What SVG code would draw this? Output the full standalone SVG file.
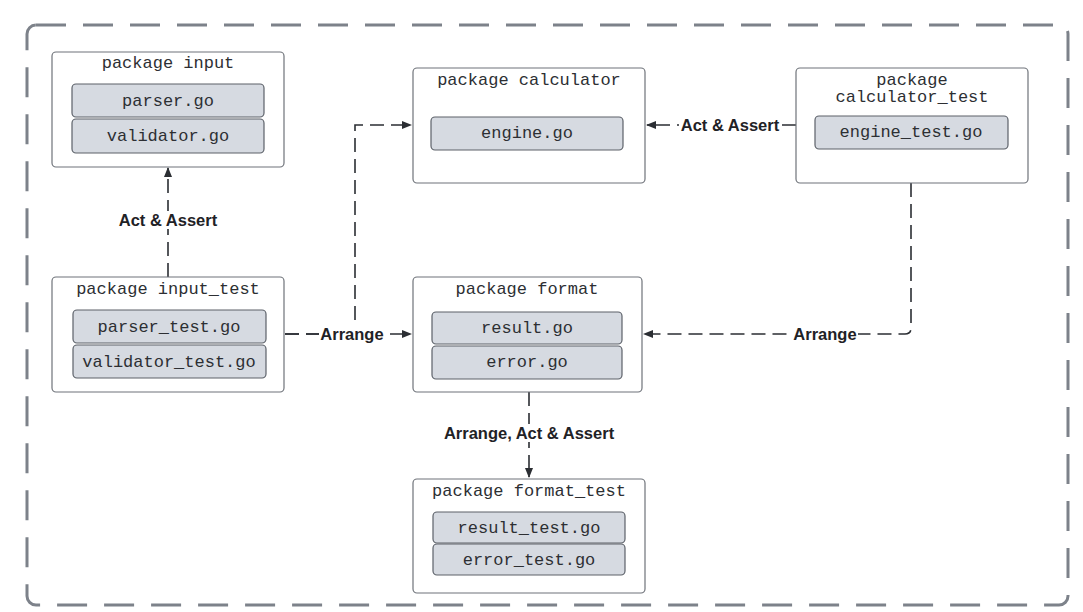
<svg xmlns="http://www.w3.org/2000/svg" width="1083" height="612" viewBox="0 0 1083 612">
<style>
.outer{fill:none;stroke:#7d828a;stroke-width:3;stroke-dasharray:30 17}
.pkg{fill:#ffffff;stroke:#6f737a;stroke-width:1.2}
.file{fill:#d6dae1;stroke:#5c6169;stroke-width:1.2}
.mono{font-family:"Liberation Mono","DejaVu Sans Mono",monospace;font-size:17px;fill:#2d2f33;text-anchor:middle;dominant-baseline:central}
.lbl{font-family:"Liberation Sans",Arial,sans-serif;font-weight:bold;font-size:16.5px;fill:#1f2226;text-anchor:middle;dominant-baseline:central}
.con{fill:none;stroke:#2b2e33;stroke-width:1.6;stroke-dasharray:14 7}
.lblbg{fill:#ffffff}
</style>
<defs>
<marker id="arr" viewBox="0 0 10 10" refX="9" refY="5" markerWidth="10" markerHeight="10" markerUnits="userSpaceOnUse" orient="auto">
<path d="M0,1 L10,5 L0,9 Z" fill="#2b2e33"/>
</marker>
</defs>
<rect class="outer" x="27" y="25" width="1041" height="580" rx="9"/>

<g id="connectors">
<path class="con" d="M168,277 V168" marker-end="url(#arr)"/>
<path class="con" d="M285,334 H411" marker-end="url(#arr)"/>
<path class="con" d="M285,334 H355 V125 H411" marker-end="url(#arr)"/>
<path class="con" d="M796,125 H647" marker-end="url(#arr)"/>
<path class="con" d="M911,183 V328 Q911,334 905,334 H644" marker-end="url(#arr)"/>
<path class="con" d="M529,392 V477" marker-end="url(#arr)"/>
<rect class="lblbg" x="116" y="211" width="104" height="18"/>
<text class="lbl" x="168" y="220">Act &amp; Assert</text>
<rect class="lblbg" x="319" y="325" width="66" height="18"/>
<text class="lbl" x="352" y="334">Arrange</text>
<rect class="lblbg" x="679" y="116" width="102" height="18"/>
<text class="lbl" x="730" y="125">Act &amp; Assert</text>
<rect class="lblbg" x="792" y="325" width="66" height="18"/>
<text class="lbl" x="825" y="334">Arrange</text>
<rect class="lblbg" x="440" y="424" width="178" height="18"/>
<text class="lbl" x="529" y="433">Arrange, Act &amp; Assert</text>
</g>

<g id="pkg-input">
<rect class="pkg" x="52" y="52" width="232" height="115" rx="4"/>
<text class="mono" x="168" y="63">package input</text>
<rect class="file" x="72" y="84" width="192" height="33" rx="4"/>
<text class="mono" x="168" y="101">parser.go</text>
<rect class="file" x="72" y="119" width="192" height="34" rx="4"/>
<text class="mono" x="168" y="136">validator.go</text>
</g>

<g id="pkg-calculator">
<rect class="pkg" x="413" y="68" width="232" height="115" rx="4"/>
<text class="mono" x="529" y="80">package calculator</text>
<rect class="file" x="431" y="117" width="192" height="33" rx="4"/>
<text class="mono" x="527" y="133">engine.go</text>
</g>

<g id="pkg-calculator-test">
<rect class="pkg" x="796" y="68" width="232" height="115" rx="4"/>
<text class="mono" x="912" y="80">package</text>
<text class="mono" x="912" y="97">calculator_test</text>
<rect class="file" x="815" y="116" width="193" height="33" rx="4"/>
<text class="mono" x="911" y="132">engine_test.go</text>
</g>

<g id="pkg-input-test">
<rect class="pkg" x="52" y="277" width="232" height="115" rx="4"/>
<text class="mono" x="168" y="289">package input_test</text>
<rect class="file" x="73" y="310" width="193" height="33" rx="4"/>
<text class="mono" x="169" y="327">parser_test.go</text>
<rect class="file" x="73" y="345" width="193" height="33" rx="4"/>
<text class="mono" x="169" y="362">validator_test.go</text>
</g>

<g id="pkg-format">
<rect class="pkg" x="413" y="277" width="229" height="115" rx="4"/>
<text class="mono" x="527" y="289">package format</text>
<rect class="file" x="432" y="312" width="190" height="32" rx="4"/>
<text class="mono" x="527" y="328">result.go</text>
<rect class="file" x="432" y="346" width="190" height="33" rx="4"/>
<text class="mono" x="527" y="362">error.go</text>
</g>

<g id="pkg-format-test">
<rect class="pkg" x="413" y="479" width="232" height="114" rx="4"/>
<text class="mono" x="529" y="491">package format_test</text>
<rect class="file" x="433" y="512" width="192" height="31" rx="4"/>
<text class="mono" x="529" y="528">result_test.go</text>
<rect class="file" x="433" y="544" width="192" height="31" rx="4"/>
<text class="mono" x="529" y="560">error_test.go</text>
</g>
</svg>
